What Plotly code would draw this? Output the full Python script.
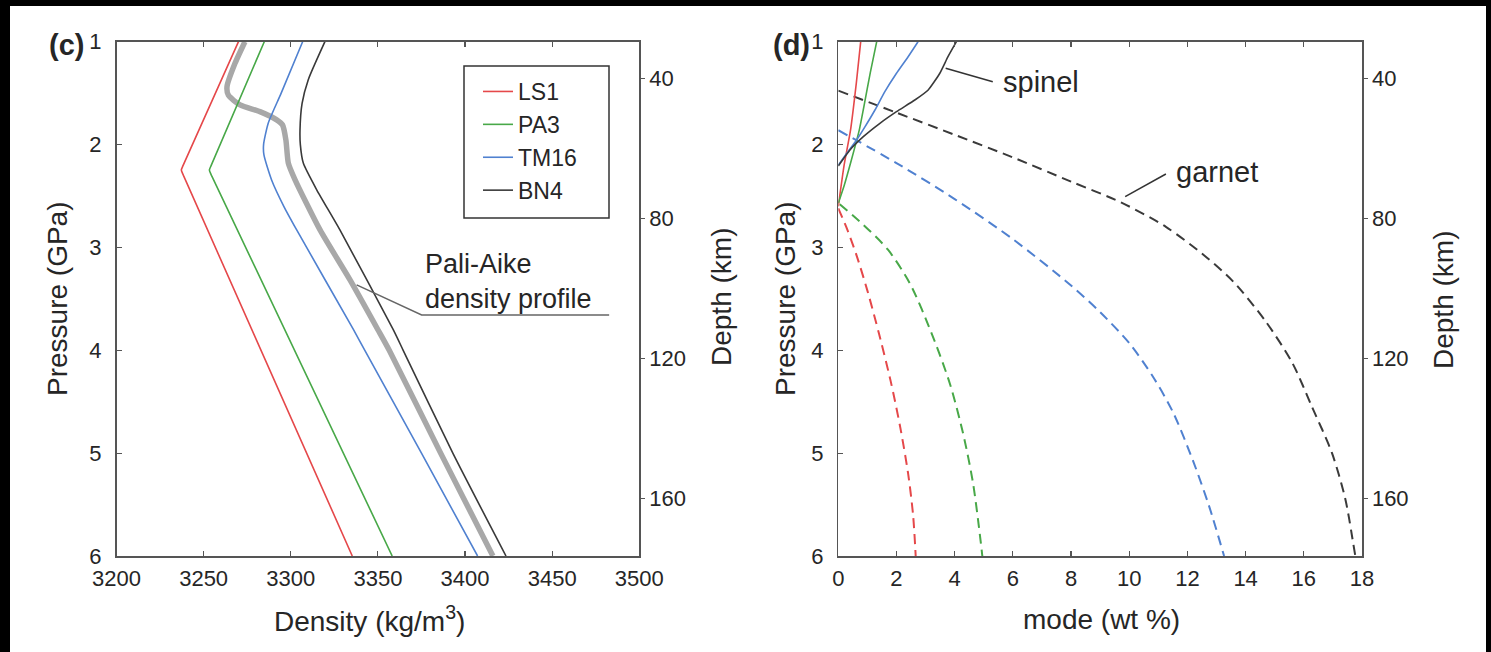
import plotly.graph_objects as go

W, H = 1491, 652

# ---------------- data: panel (c) density profiles ----------------
samples = ["LS1", "PA3", "TM16", "BN4"]
colors = {"LS1": "#e5484a", "PA3": "#48a848", "TM16": "#5081d0", "BN4": "#3a3a3a"}

P_LS1 = [1.0, 2.20, 2.248, 2.30, 6.0]
RHO_LS1 = [3270.0, 3238.3, 3237.2, 3238.4, 3335.3]

P_PA3 = [1.0, 2.20, 2.248, 2.30, 6.0]
RHO_PA3 = [3284.8, 3254.4, 3253.3, 3254.5, 3358.2]

P_TM16 = [1.0, 1.5, 1.79, 2.0, 2.1, 2.344, 2.6, 2.83, 3.8, 4.0, 5.0, 6.0]
RHO_TM16 = [3306.8, 3294.5, 3287.1, 3284.4, 3284.6, 3289.0, 3296.0, 3303.4, 3336.0, 3342.5, 3375.0, 3407.2]

P_BN4 = [1.0, 1.372, 1.6, 1.858, 2.0, 2.18, 2.44, 2.83, 3.8, 4.0, 5.0, 6.0]
RHO_BN4 = [3319.6, 3310.0, 3306.5, 3305.3, 3305.5, 3307.2, 3314.9, 3328.2, 3358.8, 3364.5, 3393.0, 3423.5]

P_PALI = [1.0, 1.21, 1.437, 1.52, 1.615, 1.68, 1.76, 1.81, 1.955, 2.18, 2.34, 2.83, 3.316, 3.8, 4.0, 5.0, 6.0]
RHO_PALI = [3273.7, 3268.0, 3263.4, 3264.2, 3270.9, 3282.3, 3291.9, 3295.3, 3297.2, 3298.6, 3302.4, 3316.8,
            3334.0, 3350.0, 3356.5, 3386.0, 3416.0]

# ---------------- data: panel (d) spinel / garnet modes ----------------
SP_P = {
    "LS1": [1.0, 1.4, 1.86, 2.2, 2.6],
    "PA3": [1.0, 1.3, 1.6, 1.86, 2.15, 2.4, 2.57],
    "TM16": [1.0, 1.146, 1.307, 1.486, 1.664, 1.826, 1.955, 2.085, 2.2],
    "BN4": [1.0, 1.146, 1.307, 1.469, 1.567, 1.68, 1.793, 1.923, 2.052, 2.208],
}
SP_MODE = {
    "LS1": [0.77, 0.62, 0.42, 0.2, 0.0],
    "PA3": [1.32, 1.1, 0.9, 0.72, 0.45, 0.2, 0.0],
    "TM16": [2.74, 2.40, 2.0, 1.60, 1.26, 0.92, 0.63, 0.29, 0.0],
    "BN4": [4.06, 3.77, 3.49, 3.09, 2.63, 2.0, 1.43, 0.86, 0.40, 0.0],
}
GT_P = {
    "LS1": [2.62, 2.82, 3.08, 3.42, 3.84, 4.30, 4.75, 5.20, 5.60, 6.0],
    "PA3": [2.58, 2.78, 3.02, 3.35, 3.83, 4.32, 4.81, 5.29, 5.78, 6.0],
    "TM16": [1.86, 2.18, 2.53, 2.92, 3.37, 3.63, 3.93, 4.25, 4.60, 5.08, 5.52, 6.0],
    "BN4": [1.476, 1.69, 1.905, 2.125, 2.36, 2.56, 2.80, 3.09, 3.34, 3.72, 4.12, 4.55, 5.0, 5.45, 5.88, 6.0],
}
GT_MODE = {
    "LS1": [0.0, 0.3, 0.63, 1.0, 1.4, 1.8, 2.13, 2.4, 2.57, 2.66],
    "PA3": [0.05, 0.86, 1.7, 2.46, 3.2, 3.83, 4.29, 4.63, 4.86, 4.95],
    "TM16": [0.0, 2.0, 4.0, 6.0, 8.0, 9.0, 10.0, 10.8, 11.5, 12.2, 12.75, 13.26],
    "BN4": [0.0, 2.0, 4.0, 6.0, 8.0, 9.7, 11.26, 12.63, 13.6, 14.69, 15.6, 16.28, 16.97, 17.43, 17.7, 17.77],
}

# axis ticks
DENSITY_TICKS = [3200, 3250, 3300, 3350, 3400, 3450, 3500]
MODE_TICKS = [0, 2, 4, 6, 8, 10, 12, 14, 16, 18]
PRESSURE_TICKS = [1, 2, 3, 4, 5, 6]
DEPTH_TICKS = [40, 80, 120, 160]
DEPTH_AT_P1 = 29.5      # km at 1 GPa
KM_PER_GPA = 29.4
DEPTH_RANGE = [DEPTH_AT_P1 + KM_PER_GPA * 5, DEPTH_AT_P1]


def px(x):
    return x / W


def py(y):
    return 1 - y / H


FONT = "Liberation Sans, Arial, Helvetica, sans-serif"
AX = "#555555"
TXT = "#262626"

fig = go.Figure()

# panel (c)
fig.add_trace(go.Scatter(x=RHO_PALI, y=P_PALI, mode="lines",
                         line=dict(color="#a8a8a8", width=5.5, shape="spline", smoothing=0.6),
                         showlegend=False, hoverinfo="skip", xaxis="x", yaxis="y"))
series_c = {"LS1": (RHO_LS1, P_LS1), "PA3": (RHO_PA3, P_PA3), "TM16": (RHO_TM16, P_TM16), "BN4": (RHO_BN4, P_BN4)}
for s in samples:
    xs, ys = series_c[s]
    fig.add_trace(go.Scatter(x=xs, y=ys, mode="lines", name=s,
                             line=dict(color=colors[s], width=1.6, shape="spline", smoothing=0.6),
                             xaxis="x", yaxis="y"))
# depth axis carrier (panel c)
fig.add_trace(go.Scatter(x=[DENSITY_TICKS[0], DENSITY_TICKS[0]], y=DEPTH_RANGE, mode="lines",
                         line=dict(color="rgba(0,0,0,0)", width=0), showlegend=False, hoverinfo="skip",
                         xaxis="x", yaxis="y2"))

# panel (d)
for s in samples:
    fig.add_trace(go.Scatter(x=GT_MODE[s], y=GT_P[s], mode="lines",
                             line=dict(color=colors[s], width=2, dash="10px,6px", shape="spline", smoothing=0.8),
                             showlegend=False, xaxis="x2", yaxis="y3"))
for s in samples:
    fig.add_trace(go.Scatter(x=SP_MODE[s], y=SP_P[s], mode="lines",
                             line=dict(color=colors[s], width=1.6, shape="spline", smoothing=0.5),
                             showlegend=False, xaxis="x2", yaxis="y3"))
fig.add_trace(go.Scatter(x=[MODE_TICKS[0], MODE_TICKS[0]], y=DEPTH_RANGE, mode="lines",
                         line=dict(color="rgba(0,0,0,0)", width=0), showlegend=False, hoverinfo="skip",
                         xaxis="x2", yaxis="y4"))

dom_c = [px(116.5), px(639.3)]
dom_d = [px(838.3), px(1362.0)]
dom_y = [py(556.0), py(41.7)]

common = dict(showgrid=False, zeroline=False, showline=True, linecolor=AX, linewidth=1.5,
              tickcolor=AX, tickwidth=1.2, automargin=False,
              tickfont=dict(family=FONT, size=22, color=TXT))

fig.update_layout(
    width=W, height=H, margin=dict(l=0, r=0, t=0, b=0, pad=0, autoexpand=False), autosize=False,
    paper_bgcolor="black", plot_bgcolor="white",
    font=dict(family=FONT, color=TXT),
    xaxis=dict(domain=dom_c, anchor="y", range=[3200, 3500], tickvals=DENSITY_TICKS, ticks="inside",
               ticklen=5, mirror="ticks", ticklabelstandoff=2, **common),
    yaxis=dict(domain=dom_y, anchor="x", range=[6, 1], tickvals=PRESSURE_TICKS, ticks="inside",
               ticklen=5, mirror=True, ticklabelstandoff=9, **common),
    yaxis2=dict(overlaying="y", side="right", anchor="x", range=DEPTH_RANGE, tickvals=DEPTH_TICKS,
                ticks="outside", ticklen=4, ticklabelstandoff=0, **common),
    xaxis2=dict(domain=dom_d, anchor="y3", range=[0, 18], tickvals=MODE_TICKS, ticks="inside",
                ticklen=5, mirror="ticks", ticklabelstandoff=2, **common),
    yaxis3=dict(domain=dom_y, anchor="x2", range=[6, 1], tickvals=PRESSURE_TICKS, ticks="inside",
                ticklen=5, mirror=True, ticklabelstandoff=9, **common),
    yaxis4=dict(overlaying="y3", side="right", anchor="x2", range=DEPTH_RANGE, tickvals=DEPTH_TICKS,
                ticks="outside", ticklen=4, ticklabelstandoff=0, **common),
    legend=dict(x=px(478), y=py(70), xanchor="left", yanchor="top", bgcolor="rgba(0,0,0,0)",
                borderwidth=0, font=dict(family=FONT, size=23, color=TXT), itemwidth=30,
                tracegroupgap=0),
    showlegend=True,
)

shapes = [
    # white page on black frame
    dict(type="rect", xref="paper", yref="paper", x0=px(10), x1=px(1486), y0=-0.01, y1=py(6),
         fillcolor="white", line=dict(width=0), layer="below"),
    # legend box
    dict(type="rect", xref="paper", yref="paper", x0=px(464), x1=px(609), y0=py(218), y1=py(66),
         line=dict(color="#333333", width=1.5), fillcolor="rgba(0,0,0,0)"),
    # Pali-Aike leader
    dict(type="path", xref="x", yref="y", path="M3337.8,3.364 L3375.1,3.656 L3482.7,3.656",
         line=dict(color="#666666", width=1.5)),
    # spinel leader
    dict(type="line", xref="x2", yref="y3", x0=3.69, y0=1.259, x1=5.31, y1=1.389,
         line=dict(color="#333333", width=1.5)),
    # garnet leader
    dict(type="line", xref="x2", yref="y3", x0=9.86, y0=2.506, x1=11.26, y1=2.286,
         line=dict(color="#333333", width=1.5)),
]
fig.update_layout(shapes=shapes)

ann = []


def label(text, x, y, size=28, angle=0, xanchor="center", yanchor="middle", bold=False, align="center"):
    t = f"<b>{text}</b>" if bold else text
    ann.append(dict(text=t, x=px(x), y=py(y), xref="paper", yref="paper", showarrow=False,
                    textangle=angle, xanchor=xanchor, yanchor=yanchor, align=align,
                    font=dict(family=FONT, size=size, color=TXT)))


label("(c)", 66, 45, size=29, bold=True)
label("(d)", 791, 45, size=29, bold=True)
label("Pressure (GPa)", 57, 299, angle=-90)
label("Depth (km)", 722, 297, angle=-90)
label("Density (kg/m<sup>3</sup>)", 369, 619)
label("Pressure (GPa)", 785, 299, angle=-90)
label("Depth (km)", 1443, 300, angle=-90)
label("mode (wt %)", 1101, 619)
label("Pali-Aike<br>density profile", 423, 282, size=27, xanchor="left", align="left")
label("spinel", 1001, 82, size=29, xanchor="left")
label("garnet", 1174, 172, size=29, xanchor="left")
fig.update_layout(annotations=ann)

fig.write_html(
    "out.html",
    config={"displayModeBar": False, "staticPlot": True},
    post_script="document.body.style.margin='0';document.body.style.overflow='hidden';"
                "document.body.style.background='black';",
)
